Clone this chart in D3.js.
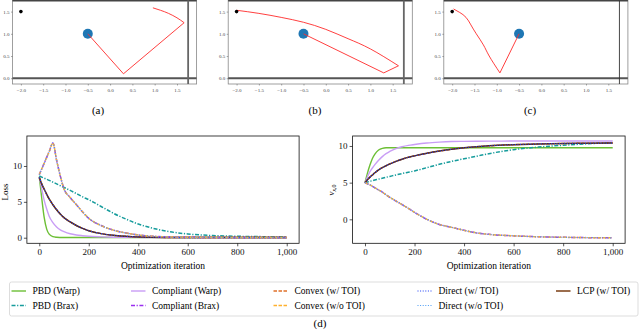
<!DOCTYPE html>
<html>
<head>
<meta charset="utf-8">
<script src="https://cdn.jsdelivr.net/npm/d3@7"></script>
<style>
  body { margin: 0; background: #fff; }
  svg { display: block; font-family: "Liberation Serif", "DejaVu Serif", serif; }
</style>
</head>
<body>
<div id="chart"></div>
<script>
// ---- top panels: trajectories (x, y in world units) ----
const target = [-2.0, 1.5];
const ball = [-0.5, 1.0];
const wallX = 1.75;
// straight bounce part, then the free flight arc
const trajA = [[-0.5, 1.0], [0.3, 0.1], [1.66, 1.25], [1.5, 1.36], [1.31, 1.46], [1.13, 1.53], [0.96, 1.585]];
const trajB = [[-0.5, 1.0], [1.3, 0.12], [1.63, 0.28], [1.0, 0.66], [0.5, 0.89], [0.0, 1.1], [-0.5, 1.26], [-1.0, 1.37], [-1.5, 1.46], [-2.0, 1.53]];
const trajC = [[-0.5, 1.0], [-0.93, 0.12], [-1.17, 0.5], [-1.3, 0.75], [-1.46, 1.0], [-1.58, 1.2], [-1.69, 1.37], [-1.83, 1.48], [-1.97, 1.56]];
const arcStart = { a: 2, b: 2, c: 1 };
const worldXTicks = [-2.0, -1.5, -1.0, -0.5, 0.0, 0.5, 1.0, 1.5];
const worldYTicks = [0.0, 0.5, 1.0, 1.5];

// ---- bottom panels ----
const iters = [0, 10, 20, 30, 40, 55, 70, 85, 100, 125, 150, 175, 200, 250, 300, 350, 400, 450, 500, 600, 700, 800, 900, 1000];

const lossPbdWarp = [8.5, 5.5, 2.8, 1.2, 0.5, 0.15, 0.06, 0.03, 0.02, 0.02, 0.02, 0.02, 0.02, 0.02, 0.02, 0.02, 0.02, 0.02, 0.02, 0.02, 0.02, 0.02, 0.02, 0.02];
const lossPbdBrax = [8.6, 8.45, 8.3, 8.15, 8.0, 7.75, 7.5, 7.25, 7.0, 6.6, 6.15, 5.7, 5.3, 4.35, 3.4, 2.6, 1.9, 1.4, 1.0, 0.52, 0.3, 0.2, 0.15, 0.12];
const lossCompliantWarp = [8.5, 6.8, 5.2, 4.0, 3.0, 2.1, 1.5, 1.1, 0.85, 0.55, 0.38, 0.28, 0.2, 0.12, 0.07, 0.05, 0.04, 0.03, 0.03, 0.02, 0.02, 0.02, 0.02, 0.02];
const lossCompliantBrax = [8.8, 9.6, 10.4, 11.2, 12.0, 13.2, 10.8, 8.6, 6.8, 5.6, 4.6, 3.6, 2.7, 1.7, 1.05, 0.65, 0.38, 0.22, 0.13, 0.06, 0.03, 0.02, 0.02, 0.02];
const lossConvexToi = [8.4, 7.5, 6.75, 6.05, 5.4, 4.6, 3.9, 3.3, 2.8, 2.2, 1.7, 1.3, 0.98, 0.57, 0.33, 0.2, 0.11, 0.07, 0.04, 0.02, 0.02, 0.02, 0.02, 0.02];
const lossConvexNoToi = lossCompliantBrax;
const lossDirectToi = lossConvexToi;
const lossDirectNoToi = lossCompliantBrax;
const lossLcp = lossConvexToi;

const velPbdWarp = [5, 6.3, 7.4, 8.3, 8.9, 9.45, 9.68, 9.75, 9.75, 9.75, 9.75, 9.75, 9.75, 9.75, 9.75, 9.75, 9.75, 9.75, 9.75, 9.75, 9.75, 9.75, 9.75, 9.75];
const velPbdBrax = [5, 5.09, 5.18, 5.27, 5.35, 5.48, 5.6, 5.73, 5.85, 6.05, 6.24, 6.42, 6.6, 7.05, 7.5, 7.9, 8.25, 8.6, 8.95, 9.5, 9.85, 10.1, 10.3, 10.45];
const velCompliantWarp = [5, 5.8, 6.5, 7.0, 7.45, 8.05, 8.55, 8.95, 9.25, 9.65, 9.9, 10.08, 10.2, 10.4, 10.52, 10.6, 10.63, 10.65, 10.66, 10.67, 10.67, 10.67, 10.67, 10.67];
const velCompliantBrax = [5, 4.85, 4.7, 4.5, 4.3, 4.0, 3.7, 3.35, 3.0, 2.5, 2.0, 1.5, 0.95, 0.0, -0.7, -1.1, -1.5, -1.85, -2.05, -2.25, -2.38, -2.45, -2.5, -2.52];
const velConvexToi = [5, 5.4, 5.75, 6.05, 6.35, 6.75, 7.05, 7.3, 7.55, 7.9, 8.2, 8.45, 8.65, 9.0, 9.3, 9.55, 9.75, 9.9, 10.02, 10.18, 10.28, 10.34, 10.38, 10.4];
const velConvexNoToi = velCompliantBrax;
const velDirectToi = velConvexToi;
const velDirectNoToi = velCompliantBrax;
const velLcp = velConvexToi;

const iterTicks = [0, 200, 400, 600, 800, 1000];
const lossTicks = [0, 5, 10];
const velTicks = [0, 5, 10];

// draw order (first = bottom)
const series = [
  { name: "PBD (Warp)", loss: lossPbdWarp, vel: velPbdWarp, color: "#6cbf35", dash: null, w: 1.4 },
  { name: "Compliant (Warp)", loss: lossCompliantWarp, vel: velCompliantWarp, color: "#c99df5", dash: null, w: 1.4 },
  { name: "PBD (Brax)", loss: lossPbdBrax, vel: velPbdBrax, color: "#169c9c", dash: "4,1.6,1.2,1.6", w: 1.5 },
  { name: "Convex (w/ TOI)", loss: lossConvexToi, vel: velConvexToi, color: "#e0702a", dash: "3.5,1.5", w: 1.4 },
  { name: "LCP (w/ TOI)", loss: lossLcp, vel: velLcp, color: "#5e2c0c", dash: null, w: 1.5 },
  { name: "Direct (w/ TOI)", loss: lossDirectToi, vel: velDirectToi, color: "#1c3cf5", dash: "1,1.6", w: 1.2 },
  { name: "Compliant (Brax)", loss: lossCompliantBrax, vel: velCompliantBrax, color: "#9a2ef0", dash: "4,1.6,1.2,1.6", w: 1.5 },
  { name: "Convex (w/o TOI)", loss: lossConvexNoToi, vel: velConvexNoToi, color: "#ffb12e", dash: "3.5,1.5", w: 1.4 },
  { name: "Direct (w/o TOI)", loss: lossDirectNoToi, vel: velDirectNoToi, color: "#4a9cf5", dash: "1,1.6", w: 1.2 }
];

const legendRows = [
  ["PBD (Warp)", "Compliant (Warp)", "Convex (w/ TOI)", "Direct (w/ TOI)", "LCP (w/ TOI)"],
  ["PBD (Brax)", "Compliant (Brax)", "Convex (w/o TOI)", "Direct (w/o TOI)"]
];

const W = 640, H = 331;
const svg = d3.select("#chart").append("svg").attr("width", W).attr("height", H);

const fmtMinus = d => d3.format(".1f")(d).replace("-", "\u2212");

function drawWorld(left, traj, k, caption, capX, thinWall) {
  const unit = 44.6;
  const x = d3.scaleLinear().domain([-2.188, 1.94]).range([left, left + 4.128 * unit]);
  const y = d3.scaleLinear().domain([-0.13, 1.75]).range([84, 0.5]);
  const g = svg.append("g");
  const [x0, x1] = x.range();

  g.append("rect").attr("x", x0).attr("y", 0.5).attr("width", x1 - x0).attr("height", 83.5)
    .attr("fill", "none").attr("stroke", "#888").attr("stroke-width", 0.8);
  // ceiling
  g.append("line").attr("x1", x0).attr("x2", x1).attr("y1", 0.8).attr("y2", 0.8)
    .attr("stroke", "#444").attr("stroke-width", 1.6);
  // ground
  g.append("line").attr("x1", x0).attr("x2", x1).attr("y1", y(0)).attr("y2", y(0))
    .attr("stroke", "#555").attr("stroke-width", 2);
  // wall
  g.append("line").attr("x1", x(wallX)).attr("x2", x(wallX)).attr("y1", 0.5).attr("y2", 84)
    .attr("stroke", thinWall ? "#333" : "#666").attr("stroke-width", thinWall ? 0.9 : 1.8);

  const xa = g.append("g").attr("transform", "translate(0,84)")
    .call(d3.axisBottom(x).tickValues(worldXTicks).tickSize(1.5).tickFormat(fmtMinus));
  const ya = g.append("g").attr("transform", `translate(${x0},0)`)
    .call(d3.axisLeft(y).tickValues(worldYTicks).tickSize(1.5).tickFormat(fmtMinus));
  [xa, ya].forEach(a => {
    a.select(".domain").remove();
    a.selectAll("line").attr("stroke", "#555").attr("stroke-width", 0.5);
    a.selectAll("text").attr("font-size", 5).attr("fill", "#444").attr("font-family", "Liberation Serif");
  });
  xa.selectAll("text").attr("dy", "0.9em").attr("y", 3);
  ya.selectAll("text").attr("x", -3);

  const straight = d3.line().x(d => x(d[0])).y(d => y(d[1]));
  const arc = d3.line().x(d => x(d[0])).y(d => y(d[1])).curve(d3.curveNatural);
  g.append("circle").attr("cx", x(ball[0])).attr("cy", y(ball[1])).attr("r", 5).attr("fill", "#1f77b4");
  g.append("path").datum(traj.slice(0, k + 1)).attr("d", straight)
    .attr("fill", "none").attr("stroke", "#ff2a2a").attr("stroke-width", 0.9);
  g.append("path").datum(traj.slice(k)).attr("d", arc)
    .attr("fill", "none").attr("stroke", "#ff2a2a").attr("stroke-width", 0.9);
  g.append("circle").attr("cx", x(target[0])).attr("cy", y(target[1])).attr("r", 1.8).attr("fill", "#000");

  svg.append("text").attr("x", capX).attr("y", 114).attr("text-anchor", "middle")
    .attr("font-size", 11).text(caption);
}

drawWorld(12.5, trajA, arcStart.a, "(a)", 98, false);
drawWorld(228.2, trajB, arcStart.b, "(b)", 315, false);
drawWorld(443.8, trajC, arcStart.c, "(c)", 530, true);

function drawCurves(xRange, yDomain, ticks, key) {
  const x = d3.scaleLinear().domain([-50, 1050]).range(xRange);
  const y = d3.scaleLinear().domain(yDomain).range([243.3, 136]);
  const g = svg.append("g");
  const [x0, x1] = xRange;

  const line = d3.line().x((d, i) => x(iters[i])).y(d => y(d)).curve(d3.curveMonotoneX);
  series.forEach(s => {
    g.append("path").datum(s[key]).attr("d", line)
      .attr("fill", "none").attr("stroke", s.color).attr("stroke-width", s.w)
      .attr("stroke-dasharray", s.dash);
  });

  g.append("rect").attr("x", x0).attr("y", 136).attr("width", x1 - x0).attr("height", 107.3)
    .attr("fill", "none").attr("stroke", "#111").attr("stroke-width", 0.8);

  const xa = g.append("g").attr("transform", "translate(0,243.3)")
    .call(d3.axisBottom(x).tickValues(iterTicks).tickSize(3).tickPadding(2));
  const ya = g.append("g").attr("transform", `translate(${x0},0)`)
    .call(d3.axisLeft(y).tickValues(ticks).tickSize(3).tickPadding(2));
  [xa, ya].forEach(a => {
    a.select(".domain").remove();
    a.selectAll("line").attr("stroke", "#111").attr("stroke-width", 0.7);
    a.selectAll("text").attr("font-size", 9).attr("fill", "#111").attr("font-family", "Liberation Serif");
  });

  svg.append("text").attr("x", (x0 + x1) / 2).attr("y", 268.5).attr("text-anchor", "middle")
    .attr("font-size", 9.5).text("Optimization iteration");
}

drawCurves([26.9, 299.1], [-0.78, 14.18], lossTicks, "loss");
svg.append("text").attr("transform", "translate(8,192) rotate(-90)").attr("text-anchor", "middle")
  .attr("font-size", 9).text("Loss");

drawCurves([352.6, 625.1], [-3.27, 11.36], velTicks, "vel");
const vl = svg.append("text").attr("transform", "translate(334,190) rotate(-90)").attr("text-anchor", "middle")
  .attr("font-size", 9);
vl.append("tspan").attr("font-style", "italic").text("v");
vl.append("tspan").attr("font-size", 6).attr("dy", 2).attr("font-style", "italic").text("x");
vl.append("tspan").attr("font-size", 6).text(",0");

// legend
const legend = svg.append("g");
legend.append("rect").attr("x", 9.5).attr("y", 282).attr("width", 628.5).attr("height", 34).attr("rx", 2)
  .attr("fill", "#fff").attr("stroke", "#d4d4d4").attr("stroke-width", 0.8);
const colX = [11.5, 131, 273.5, 417.5, 556];
const rowY = [291, 305.5];
legendRows.forEach((row, r) => {
  row.forEach((name, c) => {
    const s = series.find(d => d.name === name);
    legend.append("line").attr("x1", colX[c]).attr("x2", colX[c] + 14.5)
      .attr("y1", rowY[r]).attr("y2", rowY[r])
      .attr("stroke", s.name === "LCP (w/ TOI)" ? "#7a3c12" : s.color)
      .attr("stroke-width", s.w).attr("stroke-dasharray", s.dash);
    legend.append("text").attr("x", colX[c] + 21).attr("y", rowY[r]).attr("dy", "0.33em")
      .attr("font-size", 9.5).text(name);
  });
});

svg.append("text").attr("x", 320).attr("y", 327).attr("text-anchor", "middle")
  .attr("font-size", 11).text("(d)");
</script>
</body>
</html>
